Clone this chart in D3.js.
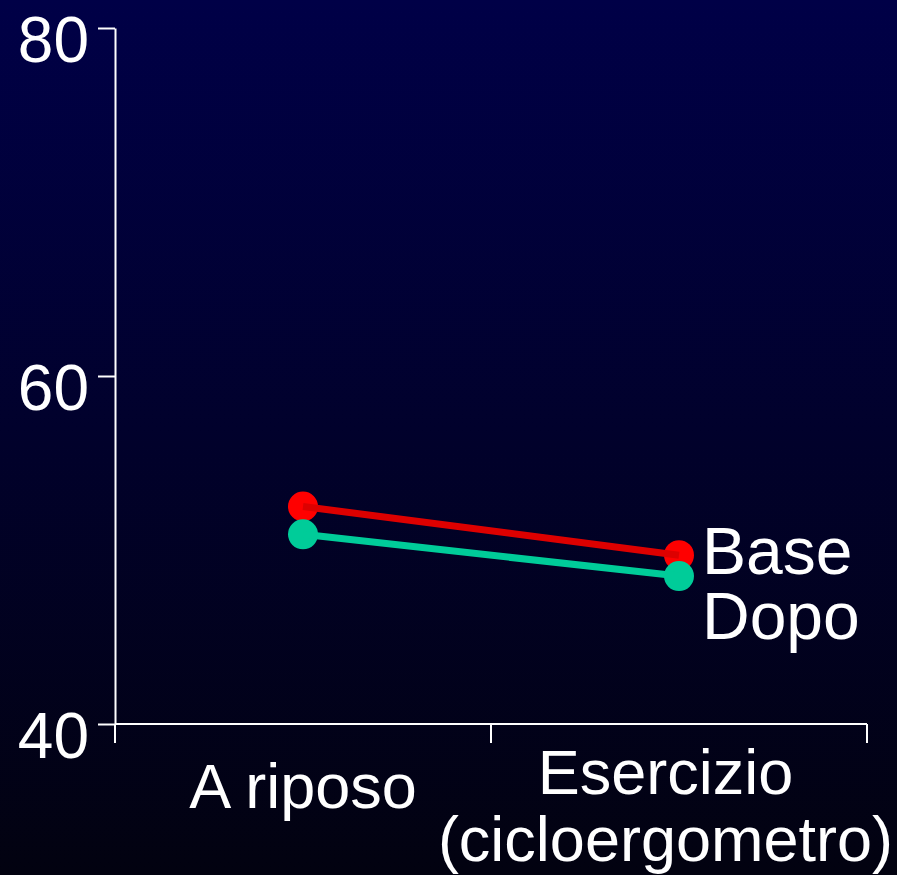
<!DOCTYPE html>
<html>
<head>
<meta charset="utf-8">
<script src="https://cdn.jsdelivr.net/npm/d3@7"></script>
<style>
  html, body { margin: 0; padding: 0; background: #000; }
  svg { display: block; }
</style>
</head>
<body>
<script>
// data
var categories = ["A riposo", "Esercizio\n(cicloergometro)"];
var seriesNames = ["Base", "Dopo"];
var baseValues = [52.5, 49.7];
var dopoValues = [50.9, 48.5];
var yTicks = [40, 60, 80];

var width = 897,
    height = 875,
    margin = {top: 28, right: 30, bottom: 151, left: 115};

var colors = {
  Base: {line: "#dd0000", dot: "#ff0000"},
  Dopo: {line: "#00cc99", dot: "#00cc99"}
};

var svg = d3.select("body").append("svg")
    .attr("width", width)
    .attr("height", height)
    .style("font-family", "'Liberation Sans', Arial, sans-serif");

// background gradient, navy to near black
var grad = svg.append("defs").append("linearGradient")
    .attr("id", "bg")
    .attr("x1", 0).attr("y1", 0).attr("x2", 0).attr("y2", 1);
grad.append("stop").attr("offset", "0%").attr("stop-color", "#000047");
grad.append("stop").attr("offset", "100%").attr("stop-color", "#020210");
svg.append("rect")
    .attr("width", width).attr("height", height)
    .attr("fill", "url(#bg)");

var x = d3.scaleBand()
    .domain(categories)
    .range([margin.left, width - margin.right])
    .paddingInner(0).paddingOuter(0);

var y = d3.scaleLinear()
    .domain([40, 80])
    .range([height - margin.bottom, margin.top]);

var axisColor = "#ffffff";

// y axis
var yAxis = svg.append("g")
    .attr("transform", "translate(" + margin.left + ",0)")
    .call(d3.axisLeft(y).tickValues(yTicks).tickSize(17).tickPadding(9).tickSizeOuter(0));
yAxis.select(".domain").attr("stroke", axisColor).attr("stroke-width", 2);
yAxis.selectAll(".tick line").attr("stroke", axisColor).attr("stroke-width", 2);
yAxis.selectAll(".tick text")
    .attr("fill", "#fff")
    .attr("font-size", 64)
    .attr("dy", "0.52em")
    .attr("font-family", "'Liberation Sans', Arial, sans-serif");

// x axis: ticks at the band edges
var x0 = y(40);
var xg = svg.append("g");
xg.append("line")
    .attr("x1", x.range()[0]).attr("x2", x.range()[1])
    .attr("y1", x0).attr("y2", x0)
    .attr("stroke", axisColor).attr("stroke-width", 2);
var edges = categories.map(function (c) { return x(c); }).concat([x.range()[1]]);
xg.selectAll("line.tick")
    .data(edges)
    .join("line")
    .attr("class", "tick")
    .attr("x1", function (d) { return d; }).attr("x2", function (d) { return d; })
    .attr("y1", x0).attr("y2", x0 + 19)
    .attr("stroke", axisColor).attr("stroke-width", 2);

// category labels, pushed left if they run off the edge
categories.forEach(function (c, i) {
  var lines = c.split("\n");
  var t = xg.append("text")
      .attr("fill", "#fff")
      .attr("font-size", 63)
      .attr("text-anchor", "middle");
  lines.forEach(function (l, j) {
    t.append("tspan")
        .attr("x", x(c) + x.bandwidth() / 2)
        .attr("y", (i === 0 ? 808 : 794) + j * 67)
        .text(l);
  });
  var bb = t.node().getBBox();
  var over = bb.x + bb.width - (width - 4);
  if (over > 0) t.attr("transform", "translate(" + (-over) + ",0)");
});

// series
var series = [
  {name: "Base", values: baseValues},
  {name: "Dopo", values: dopoValues}
];

var line = d3.line()
    .x(function (d, i) { return x(categories[i]) + x.bandwidth() / 2; })
    .y(function (d) { return y(d); });

series.forEach(function (s) {
  var g = svg.append("g");
  g.selectAll("circle")
      .data(s.values)
      .join("circle")
      .attr("cx", function (d, i) { return x(categories[i]) + x.bandwidth() / 2; })
      .attr("cy", function (d) { return y(d); })
      .attr("r", 15)
      .attr("fill", colors[s.name].dot);
  g.append("path")
      .attr("d", line(s.values))
      .attr("fill", "none")
      .attr("stroke", colors[s.name].line)
      .attr("stroke-width", 7);
});

// legend next to the last points
var lastX = x(categories[1]) + x.bandwidth() / 2;
svg.selectAll("text.legend")
    .data(seriesNames)
    .join("text")
    .attr("class", "legend")
    .attr("x", lastX + 23)
    .attr("y", function (d, i) { return 574 + i * 65; })
    .attr("fill", "#fff")
    .attr("font-size", 66)
    .text(function (d) { return d; });
</script>
</body>
</html>
